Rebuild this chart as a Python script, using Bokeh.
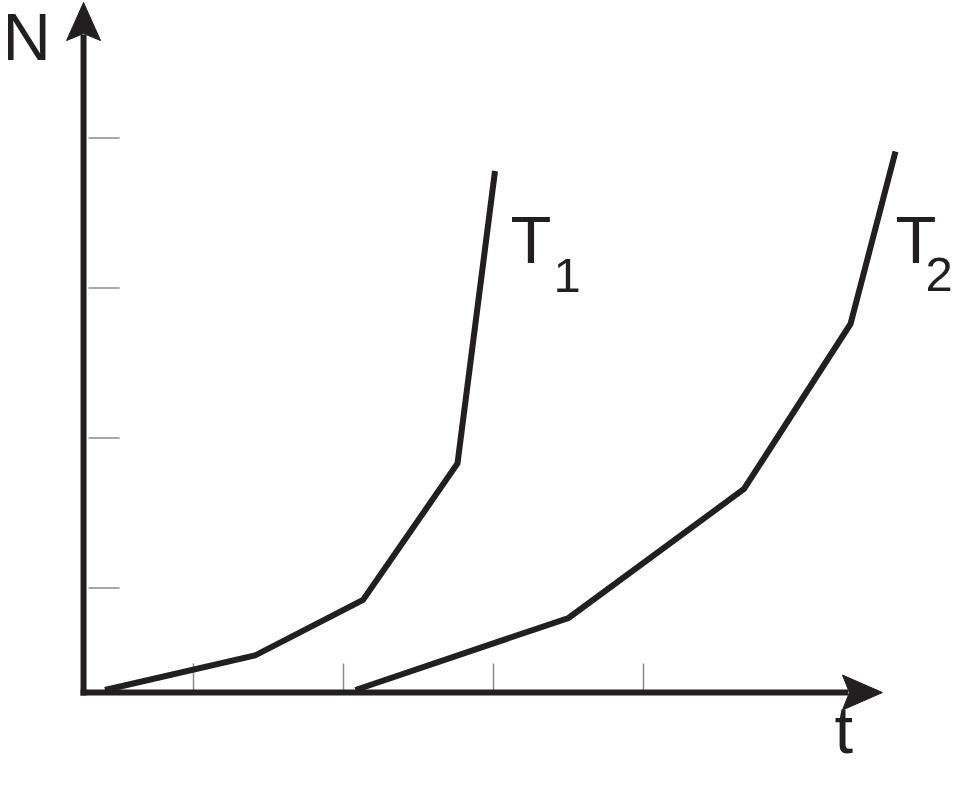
from bokeh.plotting import figure
from bokeh.models import Range1d
from bokeh.core.properties import value
from bokeh.embed import file_html
from bokeh.resources import INLINE

# ---- data (t, N) ----
t1_t = [0.41, 1.41, 2.13, 2.76, 3.01]
t1_n = [0.32, 0.55, 0.92, 1.83, 3.78]
t2_t = [2.08, 3.50, 4.67, 5.38, 5.68]
t2_n = [0.32, 0.80, 1.66, 2.76, 3.91]
x_ticks = [1, 2, 3, 4]
y_ticks = [1, 2, 3, 4]
axis_t0 = 0.267   # where the N axis stands
axis_n0 = 0.303   # where the t axis lies
axis_t_end = 5.593
axis_n_end = 4.903

PX = 1.0 / 150.0  # one screen pixel in data units (both axes share the scale)
INK = "#231f20"
TICK = "#8a8a8a"
FONT = value("Liberation Sans")

W, H = 953, 771
x0 = 1 + (0 - 193) * PX
y1 = 1 + (587.5 - 0) * PX
p = figure(width=W, height=H, output_backend="svg", toolbar_location=None,
           x_range=Range1d(x0, x0 + W * PX), y_range=Range1d(y1 - H * PX, y1),
           min_border=0, outline_line_color=None)
p.axis.visible = False
p.grid.visible = False
p.background_fill_color = "white"
p.border_fill_color = "white"

# tick marks (thin gray, detached from axes)
p.segment(x0=[axis_t0 + 5 * PX] * len(y_ticks), y0=y_ticks,
          x1=[axis_t0 + 36 * PX] * len(y_ticks), y1=y_ticks,
          line_color=TICK, line_width=1.5)
p.segment(x0=x_ticks, y0=[axis_n0 + 29 * PX] * len(x_ticks),
          x1=x_ticks, y1=[axis_n0] * len(x_ticks),
          line_color=TICK, line_width=1.5)

# axes lines
p.segment(x0=[axis_t0 - 3 * PX], y0=[axis_n0], x1=[axis_t_end - 34 * PX], y1=[axis_n0],
          line_color=INK, line_width=6, line_cap="butt")
p.segment(x0=[axis_t0], y0=[axis_n0 - 3 * PX], x1=[axis_t0], y1=[axis_n_end - 32 * PX],
          line_color=INK, line_width=6, line_cap="butt")

# arrow heads (barbed)
p.patch(x=[axis_t_end, axis_t_end - 40 * PX, axis_t_end - 33 * PX, axis_t_end - 40 * PX],
        y=[axis_n0, axis_n0 + 17.5 * PX, axis_n0, axis_n0 - 17.5 * PX],
        fill_color=INK, line_color=INK, line_width=1)
p.patch(x=[axis_t0, axis_t0 - 17 * PX, axis_t0, axis_t0 + 17 * PX],
        y=[axis_n_end, axis_n_end - 38 * PX, axis_n_end - 31 * PX, axis_n_end - 38 * PX],
        fill_color=INK, line_color=INK, line_width=1)

# curves
p.line(t1_t, t1_n, line_color=INK, line_width=6, line_join="miter", line_cap="butt")
p.line(t2_t, t2_n, line_color=INK, line_width=6, line_join="miter", line_cap="butt")

def tx(px):
    return 1 + (px - 193) * PX

def ty(py, fs):
    # baseline at screen row py (compensating the renderer's baseline offset)
    return 1 + (587.5 - (py - 0.39 * fs)) * PX

BIG, SUB = 67, 49
p.text(x=[tx(2)], y=[ty(62, BIG)], text=["N"], text_font=FONT, text_font_size=f"{BIG}px",
       text_color=INK, text_baseline="alphabetic", text_align="left")
p.text(x=[tx(834)], y=[ty(755, BIG)], text=["t"], text_font=FONT, text_font_size=f"{BIG}px",
       text_color=INK, text_baseline="alphabetic", text_align="left")
p.text(x=[tx(510), tx(895)], y=[ty(265, BIG), ty(265, BIG)], text=["T", "T"], text_font=FONT,
       text_font_size=f"{BIG}px", text_color=INK, text_baseline="alphabetic", text_align="left")
p.text(x=[tx(553), tx(925)], y=[ty(294, SUB), ty(293, SUB)], text=["1", "2"], text_font=FONT,
       text_font_size=f"{SUB}px", text_color=INK, text_baseline="alphabetic", text_align="left")

open("out.html", "w").write(file_html(p, INLINE))
